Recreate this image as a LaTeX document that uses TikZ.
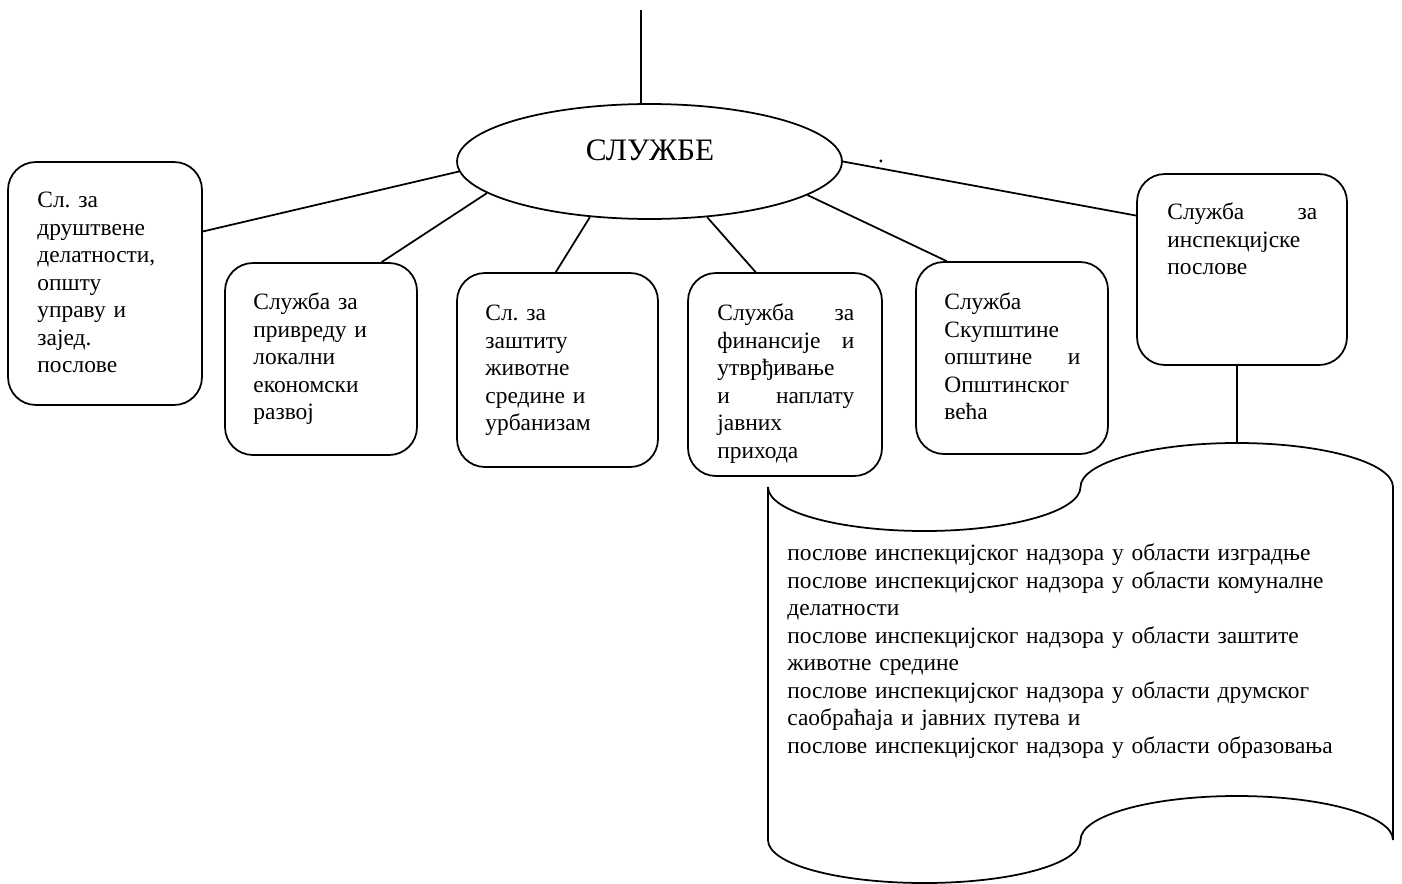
\documentclass[tikz,border=0pt]{standalone}
\usepackage{fontspec}
\setmainfont{Liberation Serif}
\frenchspacing
\usetikzlibrary{shapes.geometric}

\begin{document}
\begin{tikzpicture}[x=0.018cm, y=-0.018cm]
    \tikzset{line/.style={line width=0.9pt}};
    \tikzset{box/.style={line, draw, rounded corners=0.5cm, inner sep=0pt,
        minimum width=3.456cm, minimum height=3.456cm}};
    \tikzset{txt/.style={anchor=north west, inner sep=0pt, align=left,
        font=\fontsize{12}{14.1}\selectfont}};

    \useasboundingbox (0,0) rectangle (1402,884);

    % central ellipse
    \node[line, draw, ellipse, inner sep=0pt, minimum width=6.93cm, minimum height=2.07cm] (svc) at (649.5,161.5) {};
    \node[font=\fontsize{16}{19}\selectfont] (svctxt) at (650,150) {СЛУЖБЕ};
    \coordinate (head) at (641,10);
    \draw[line] (head) -- (head |- svc.north);
    \node[inner sep=0pt, font=\fontsize{12}{14.1}\selectfont] (dot) at (881,161) {.};

    % boxes
    \node[box, minimum width=3.492cm, minimum height=4.374cm] (b1) at (105,283.5) {};
    \node[box] (b2) at (321,359) {};
    \node[box, minimum width=3.618cm, minimum height=3.492cm] (b3) at (557.5,370) {};
    \node[box, minimum width=3.492cm, minimum height=3.654cm] (b4) at (785,374.5) {};
    \node[box] (b5) at (1012,358) {};
    \node[box, minimum width=3.78cm, minimum height=3.438cm] (b6) at (1242,269.5) {};

    \node[txt, text width=3cm] (t1) at (37,188) {\strut Сл. за\\друштвене\\делатности,\\општу\\управу и\\зајед.\\послове};
    \node[txt, text width=3cm] (t2) at (253,290) {\strut Служба за\\привреду и\\локални\\економски\\развој};
    \node[txt, text width=3cm] (t3) at (485,301) {\strut Сл. за\\заштиту\\животне\\средине и\\урбанизам};
    \node[txt, text width=2.466cm] (t4) at (717,301) {\strut Служба\hfill за\\финансије\hfill и\\утврђивање\\и\hfill наплату\\јавних\\прихода};
    \node[txt, text width=2.448cm] (t5) at (944,290) {\strut Служба\\Скупштине\\општине\hfill и\\Општинског\\већа};
    \node[txt, text width=2.7cm] (t6) at (1167,200) {\strut Служба\hfill за\\инспекцијске\\послове};

    % connectors
    \draw[line] (svc.183.4) -- (b1.28.9);
    \draw[line] (svc.191) -- (b2.58.4);
    \draw[line] (svc.223) -- (b3.91.5);
    \draw[line] (svc.316) -- (b4.106.5);
    \draw[line] (svc.348.7) -- (b5.124.1);
    \draw[line] (svc.east) -- (b6.153.4);

    % punched tape
    \draw[line] (768,487) .. controls (768,511.3) and (838,531) .. (924.25,531)
        .. controls (1010.5,531) and (1080.5,511.3) .. (1080.5,487)
        .. controls (1080.5,462.7) and (1150.5,443) .. (1236.75,443)
        .. controls (1323,443) and (1393,462.7) .. (1393,487)
        -- (1393,840)
        .. controls (1393,815.7) and (1323,796) .. (1236.75,796)
        .. controls (1150.5,796) and (1080.5,815.7) .. (1080.5,840)
        .. controls (1080.5,864.3) and (1010.5,883) .. (924.25,883)
        .. controls (838,883) and (768,864.3) .. (768,840)
        -- cycle;
    \coordinate (tapetop) at (1237,443);
    \draw[line] (tapetop |- b6.south) -- (tapetop);

    \node[txt, text width=11cm] (tape) at (787,541) {\strut послове инспекцијског надзора у области изградње\\послове инспекцијског надзора у области комуналне\\делатности\\послове инспекцијског надзора у области заштите\\животне средине\\послове инспекцијског надзора у области друмског\\саобраћаја и јавних путева и\\послове инспекцијског надзора у области образовања};
\end{tikzpicture}
\end{document}
